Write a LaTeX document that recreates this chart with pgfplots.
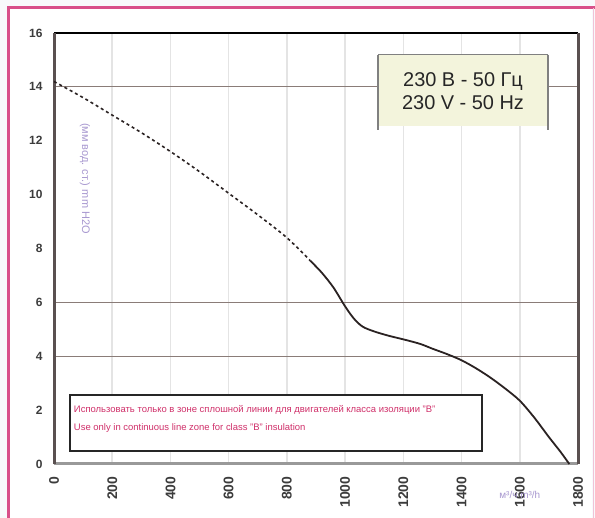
\documentclass[border=0pt]{standalone}
\usepackage{fontspec}
\setmainfont{Liberation Sans}
\usepackage{pgfplots}
\pgfplotsset{compat=1.18}
\definecolor{pinkframe}{HTML}{D8508A}
\definecolor{bgc}{HTML}{F8FAFC}
\definecolor{axgray}{HTML}{5A5050}
\definecolor{gridv}{HTML}{E4E4E4}
\definecolor{gridh}{HTML}{8A7C78}
\definecolor{boxfill}{HTML}{F3F4DC}
\definecolor{notered}{HTML}{D0306A}
\definecolor{lav}{HTML}{A898D0}
\definecolor{ticklab}{HTML}{3C3C3C}
\definecolor{curve}{HTML}{2A2222}
\begin{document}
\begin{tikzpicture}[x=1bp,y=1bp]
\useasboundingbox (0,0) rectangle (595,518);
\fill[bgc] (0,0) rectangle (595,518);
\fill[white] (8,0) rectangle (592,509);
\draw[pinkframe, line width=3bp] (8,0) -- (8,510) -- (595,510);
\draw[pinkframe!35, line width=1bp] (593,0) -- (593,510);
\begin{axis}[
  at={(54bp,54bp)}, anchor=south west,
  scale only axis, width=524bp, height=431bp,
  xmin=0, xmax=1800, ymin=0, ymax=16,
  xtick={0,200,...,1800}, ytick={0,2,...,16},
  axis line style={draw=none},
  tick style={draw=none},
  xmajorgrids, grid style={gridv, line width=1.5bp},
  clip=false,
  /pgf/number format/1000 sep={},
  /pgf/number format/assume math mode=true,
  ticklabel style={text=ticklab, font=\bfseries},
  yticklabel style={font=\fontsize{12}{13}\selectfont\bfseries, xshift=-8bp},
  xticklabel style={font=\fontsize{14}{15}\selectfont\bfseries, rotate=90, anchor=east, xshift=-9bp},
]
% horizontal grid lines
\draw[gridh, line width=1.2bp] (axis cs:0,14) -- (axis cs:1800,14);
\draw[gridh, line width=1bp] (axis cs:0,6) -- (axis cs:1800,6);
\draw[gridh, line width=1bp] (axis cs:0,4) -- (axis cs:1800,4);
% axis frame
\draw[black, line width=2bp] (axis cs:0,16) -- (axis cs:1800,16);
\draw[gray!80, line width=3bp] (axis cs:0,0) -- (axis cs:1800,0);
\draw[axgray, line width=3bp] (axis cs:0,0) -- (axis cs:0,16);
\draw[axgray, line width=3bp] (axis cs:1800,0) -- (axis cs:1800,16);
% info box
\fill[boxfill] (axis cs:1113,12.55) rectangle (axis cs:1697,15.2);
\draw[gray, line width=1bp] (axis cs:1113,15.2) -- (axis cs:1697,15.2);
\draw[gray, line width=2.5bp] (axis cs:1113,15.2) -- (axis cs:1113,12.4);
\draw[gray, line width=2.5bp] (axis cs:1697,15.2) -- (axis cs:1697,12.4);
\node[align=center, text=black!85, font=\fontsize{20}{23}\selectfont, inner sep=0pt] at (axis cs:1405,13.85) {230 В - 50 Гц\\230 V - 50 Hz};
% note box
\draw[black!85, line width=1.5bp, fill=white] (axis cs:55,0.48) rectangle (axis cs:1470,2.56);
\node[anchor=west, text=notered, font=\fontsize{9.5}{10}\selectfont, inner sep=0pt] at (axis cs:68,2.0) {Использовать только в зоне сплошной линии для двигателей класса изоляции "В"};
\node[anchor=west, text=notered, font=\fontsize{9.5}{10}\selectfont, inner sep=0pt] at (axis cs:68,1.35) {Use only in continuous line zone for class "B" insulation};
% side label
\node[rotate=-90, text=lav, font=\fontsize{11}{12}\selectfont, inner sep=0pt] at (axis cs:106,10.6) {(мм вод. ст.) mm H2O};
\node[text=lav, font=\fontsize{10}{11}\selectfont, inner sep=0pt] at (axis cs:1600,-1.15) {м³/ч  m³/h};
% curve
\addplot[curve, line width=1.6bp, dash pattern=on 3bp off 3bp, smooth] coordinates {
(0,14.2) (100,13.6) (200,12.95) (300,12.3) (400,11.6) (500,10.85) (600,10.05) (700,9.25) (800,8.4) (880,7.55)};
\addplot[curve, line width=1.8bp, smooth] coordinates {
(880,7.55) (920,7.1) (960,6.55) (1000,5.85) (1030,5.4) (1060,5.1) (1100,4.92) (1150,4.76) (1210,4.6) (1260,4.45) (1300,4.28) (1350,4.08) (1400,3.85) (1450,3.55) (1500,3.2) (1550,2.8) (1600,2.35) (1650,1.72) (1700,1.0) (1740,0.45) (1770,0.0)};
\end{axis}
\end{tikzpicture}
\end{document}
